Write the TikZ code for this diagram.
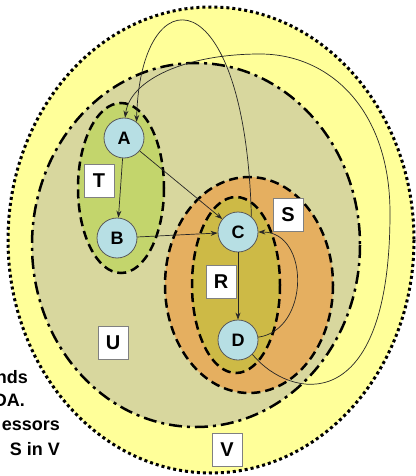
\documentclass[tikz,border=0pt]{standalone}
\usepackage{fontspec}
\setmainfont{Liberation Sans}
\usetikzlibrary{arrows.meta}
\definecolor{vfill}{HTML}{FFFF99}
\definecolor{ufill}{HTML}{D8D79E}
\definecolor{tfill}{HTML}{C3D56C}
\definecolor{sfill}{HTML}{E5AF60}
\definecolor{rfill}{HTML}{CDBA46}
\definecolor{vertfill}{HTML}{B7DFE4}
\begin{document}
\begin{tikzpicture}[x=1pt, y=-1pt,
    vert/.style={circle, draw=black!65, fill=vertfill, minimum size=40pt, inner sep=0pt, line width=0.8pt, font=\fontsize{18}{20}\selectfont\bfseries},
    setlabel/.style={rectangle, draw=black!50, fill=white, minimum width=30pt, minimum height=33pt, inner sep=0pt, line width=0.8pt, font=\fontsize{20}{22}\selectfont\bfseries},
    edge/.style={draw=black!85, line width=0.7pt, -{Stealth[length=7pt, width=5pt]}},
    setline/.style={line width=2.5pt, dash pattern=on 9pt off 5pt}]
                \useasboundingbox (0,0) rectangle (415,476);

                % Sets
                \draw[fill=vfill, line width=3pt, dash pattern=on 3pt off 3pt] (211,240) ellipse [x radius=203, y radius=233];
                \draw[fill=ufill, line width=2.5pt, dash pattern=on 13pt off 5pt on 3pt off 5pt] (196,245) ellipse [x radius=164, y radius=182];
                \draw[setline, fill=tfill] (121,188) ellipse [x radius=43, y radius=85];
                \draw[setline, fill=sfill] (249,285) ellipse [x radius=84, y radius=108];
                \draw[setline, fill=rfill] (236,285) ellipse [x radius=44, y radius=88];

                % Vertices
                \foreach \n/\x/\y in {A/124/138, B/117/238, C/238/232, D/238/340}
                    \node[vert] (\n) at (\x, \y) {\n};

                % Set labels
                \foreach \n/\x/\y in {T/99/181, S/288/215, R/221/282, U/113/343, V/227/450}
                    \node[setlabel] (lbl\n) at (\x, \y) {\n};

                % Edges
                \draw[edge] (A) -- (B);
                \draw[edge] (A) -- (C);
                \draw[edge] (B) -- (C);
                \draw[edge] (C) -- (D);
                \draw[edge] (D.8) .. controls (310,330) and (310,232) .. (C.east);
                \draw[edge] (C.49) .. controls (245,-26) and (140,-26) .. (A.52);
                \draw[edge] (D.-45) .. controls (290,400) and (390,420) .. (390,213)
                    .. controls (390,110) and (330,54) .. (260,54)
                    .. controls (185,54) and (130,80) .. (A.87);

                % Cut text
                \begin{scope}[font=\fontsize{18}{20}\selectfont\bfseries]
                    \node[anchor=base east, inner sep=0pt] (txt1) at (28,383) {nds};
                    \node[anchor=base east, inner sep=0pt] (txt2) at (25,406) {DA.};
                    \node[anchor=base east, inner sep=0pt] (txt3) at (60,430) {essors};
                    \node[anchor=base east, inner sep=0pt] (txt4) at (60,455) {S in V};
                \end{scope}
            \end{tikzpicture}
\end{document}
